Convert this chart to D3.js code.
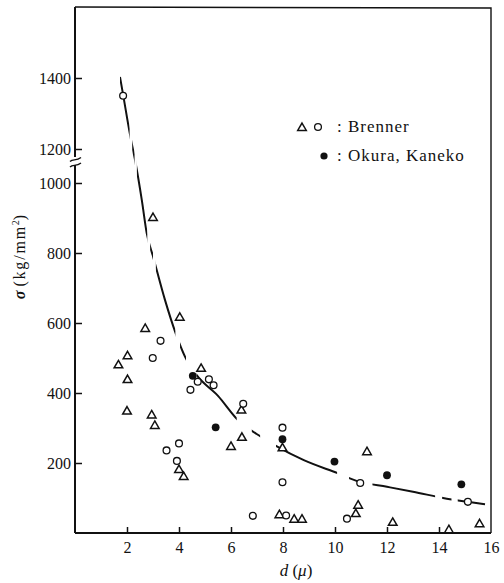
<!DOCTYPE html>
<html>
<head>
<meta charset="utf-8">
<script src="https://cdn.jsdelivr.net/npm/d3@7"></script>
<style>
  body { margin: 0; background: #fff; }
</style>
</head>
<body>
<svg id="chart" width="504" height="583"></svg>
<script>
/// data: d in micron, sigma in kg/mm^2

// Brenner, open triangles
var triD     = [3.0, 4.03, 2.70, 2.02, 1.67, 4.85, 2.02, 6.40, 2.0, 2.95, 3.07, 6.42, 6.0, 7.98, 11.23, 4.0, 4.18, 10.89, 10.8, 7.86, 8.43, 8.73, 12.22, 15.56, 14.38];
var triSigma = [900, 615, 583, 505, 479, 469, 437, 350, 347, 336, 306, 272, 246, 242, 231, 180, 160, 78, 54, 51, 38, 38, 29, 25, 8];

// Brenner, open circles
var circD     = [1.85, 3.29, 2.99, 4.72, 5.15, 5.33, 4.44, 6.47, 7.98, 4.0, 3.52, 3.92, 7.98, 10.97, 15.11, 6.84, 8.12, 10.46];
var circSigma = [1350, 549, 500, 432, 439, 422, 409, 369, 301, 256, 236, 206, 145, 143, 89, 49, 50, 41];

// Okura, Kaneko, filled circles
var okuraD     = [4.53, 5.41, 7.98, 9.98, 12.0, 14.86];
var okuraSigma = [449, 302, 268, 204, 165, 139];

// fitted curve, points along it
var curveD     = [1.73, 1.86, 2.12, 2.31, 2.57, 2.76, 3.01, 3.46, 3.88, 4.23, 4.68, 5.5, 6.24, 7.15, 7.73, 8.8, 10.1, 10.96, 12.0, 13.0, 14.3, 15.1, 15.77];
var curveSigma = [1403, 1349, 1239, 1135, 951, 856, 788, 666, 569, 504, 451, 392, 325, 275, 249, 208, 171, 146, 132, 118, 98, 89, 82];
// the parts of the curve that are inked (d ranges), the rest are gaps
var curveOn = [[1.73, 2.10], [2.20, 2.29], [2.38, 2.78], [2.89, 3.0], [3.11, 3.86], [4.04, 4.27],
               [4.68, 6.22], [6.80, 7.12], [7.73, 10.08], [10.54, 10.93], [11.44, 13.85], [14.12, 14.48], [14.72, 15.8]];

var xTicks = [2, 4, 6, 8, 10, 12, 14, 16];
var yTicks = [200, 400, 600, 800, 1000, 1200, 1400];

var serif = "'Liberation Serif', 'Times New Roman', Times, 'DejaVu Serif', serif";

var svg = d3.select("#chart");

// the y axis is broken between 1000 and 1200
var x = d3.scaleLinear().domain([0, 16]).range([75, 491]);
var y = d3.scaleLinear().domain([0, 1000, 1200, 1600]).range([533, 183, 149, 7]);

/// frame
svg.append("path")
    .attr("d", "M75,7 L491,8 L491,533")
    .attr("fill", "none").attr("stroke", "#111").attr("stroke-width", 1.4);

/// axes (ticks point inward)
var xAxis = svg.append("g")
    .attr("transform", "translate(0,533)")
    .call(d3.axisBottom(x).tickValues(xTicks).tickSize(-6).tickPadding(9).tickFormat(d3.format("d")));
var yAxis = svg.append("g")
    .attr("transform", "translate(75,0)")
    .call(d3.axisLeft(y).tickValues(yTicks).tickSize(-7).tickPadding(4).tickFormat(d3.format("d")));

[xAxis, yAxis].forEach(function(g) {
  g.attr("font-family", serif).attr("font-size", 16);
  g.select(".domain").attr("stroke", "#111").attr("stroke-width", 2);
  g.selectAll(".tick line").attr("stroke", "#111").attr("stroke-width", 1.5);
  g.selectAll(".tick text").attr("fill", "#111");
});
xAxis.select(".domain").attr("d", "M75,0H491");
yAxis.select(".domain").attr("d", "M0,7V533");
xAxis.selectAll(".tick").filter(function(d) { return d === 16; }).select("line").remove();

// break mark on the y axis
svg.append("rect").attr("x", 72).attr("y", 157).attr("width", 7).attr("height", 8).attr("fill", "#fff");
[157.5, 163].forEach(function(yy) {
  svg.append("path")
      .attr("d", "M70," + (yy + 4) + " C73," + (yy + 1) + " 76," + (yy + 4) + " 81," + yy)
      .attr("fill", "none").attr("stroke", "#111").attr("stroke-width", 1.4);
});

/// curve, clipped to its inked parts
var clip = svg.append("clipPath").attr("id", "curveClip");
clip.selectAll("rect")
    .data(curveOn)
  .enter().append("rect")
    .attr("x", function(d) { return x(d[0]); })
    .attr("width", function(d) { return x(d[1]) - x(d[0]); })
    .attr("y", 0)
    .attr("height", 583);

var line = d3.line()
    .x(function(d) { return x(d); })
    .y(function(d, i) { return y(curveSigma[i]); })
    .curve(d3.curveMonotoneX);

svg.append("path")
    .datum(curveD)
    .attr("d", line)
    .attr("fill", "none")
    .attr("stroke", "#111")
    .attr("stroke-width", 2)
    .attr("clip-path", "url(#curveClip)");

/// points
var tri = d3.symbol().type(d3.symbolTriangle).size(32);

svg.selectAll("path.tri")
    .data(triD)
  .enter().append("path")
    .attr("class", "tri")
    .attr("d", tri)
    .attr("transform", function(d, i) { return "translate(" + x(d) + "," + y(triSigma[i]) + ")"; })
    .attr("fill", "#fff").attr("stroke", "#111").attr("stroke-width", 1.5);

svg.selectAll("circle.open")
    .data(circD)
  .enter().append("circle")
    .attr("class", "open")
    .attr("cx", function(d) { return x(d); })
    .attr("cy", function(d, i) { return y(circSigma[i]); })
    .attr("r", 3.4)
    .attr("fill", "#fff").attr("stroke", "#111").attr("stroke-width", 1.3);

svg.selectAll("circle.okura")
    .data(okuraD)
  .enter().append("circle")
    .attr("class", "okura")
    .attr("cx", function(d) { return x(d); })
    .attr("cy", function(d, i) { return y(okuraSigma[i]); })
    .attr("r", 3.9)
    .attr("fill", "#111");

/// legend
svg.append("path").attr("d", tri).attr("transform", "translate(302,128)")
    .attr("fill", "#fff").attr("stroke", "#111").attr("stroke-width", 1.5);
svg.append("circle").attr("cx", 318).attr("cy", 127).attr("r", 3.4)
    .attr("fill", "#fff").attr("stroke", "#111").attr("stroke-width", 1.3);
svg.append("circle").attr("cx", 324).attr("cy", 156).attr("r", 3.6).attr("fill", "#111");
[[132, "Brenner"], [161, "Okura, Kaneko"]].forEach(function(r) {
  svg.append("text").attr("x", 337).attr("y", r[0]).attr("font-size", 17).text(":");
  svg.append("text").attr("x", 348).attr("y", r[0]).attr("font-size", 17)
      .attr("letter-spacing", 1).text(r[1]);
});

/// axis titles
var yt = svg.append("text")
    .attr("transform", "translate(25,257) rotate(-90)")
    .attr("text-anchor", "middle")
    .attr("font-size", 16);
yt.append("tspan").attr("font-style", "italic").attr("font-weight", "bold").text("σ ");
yt.append("tspan").attr("letter-spacing", 1.8).text("(kg/mm");
yt.append("tspan").attr("dy", -6).attr("font-size", 10).text("2");
yt.append("tspan").attr("dy", 6).text(")");

var xt = svg.append("text")
    .attr("x", 296).attr("y", 576)
    .attr("text-anchor", "middle")
    .attr("font-size", 17);
xt.append("tspan").attr("font-style", "italic").text("d");
xt.append("tspan").text(" (");
xt.append("tspan").attr("font-style", "italic").text("μ");
xt.append("tspan").text(")");

svg.selectAll("text").attr("font-family", serif).style("font-family", serif).attr("fill", "#111");
</script>
</body>
</html>
